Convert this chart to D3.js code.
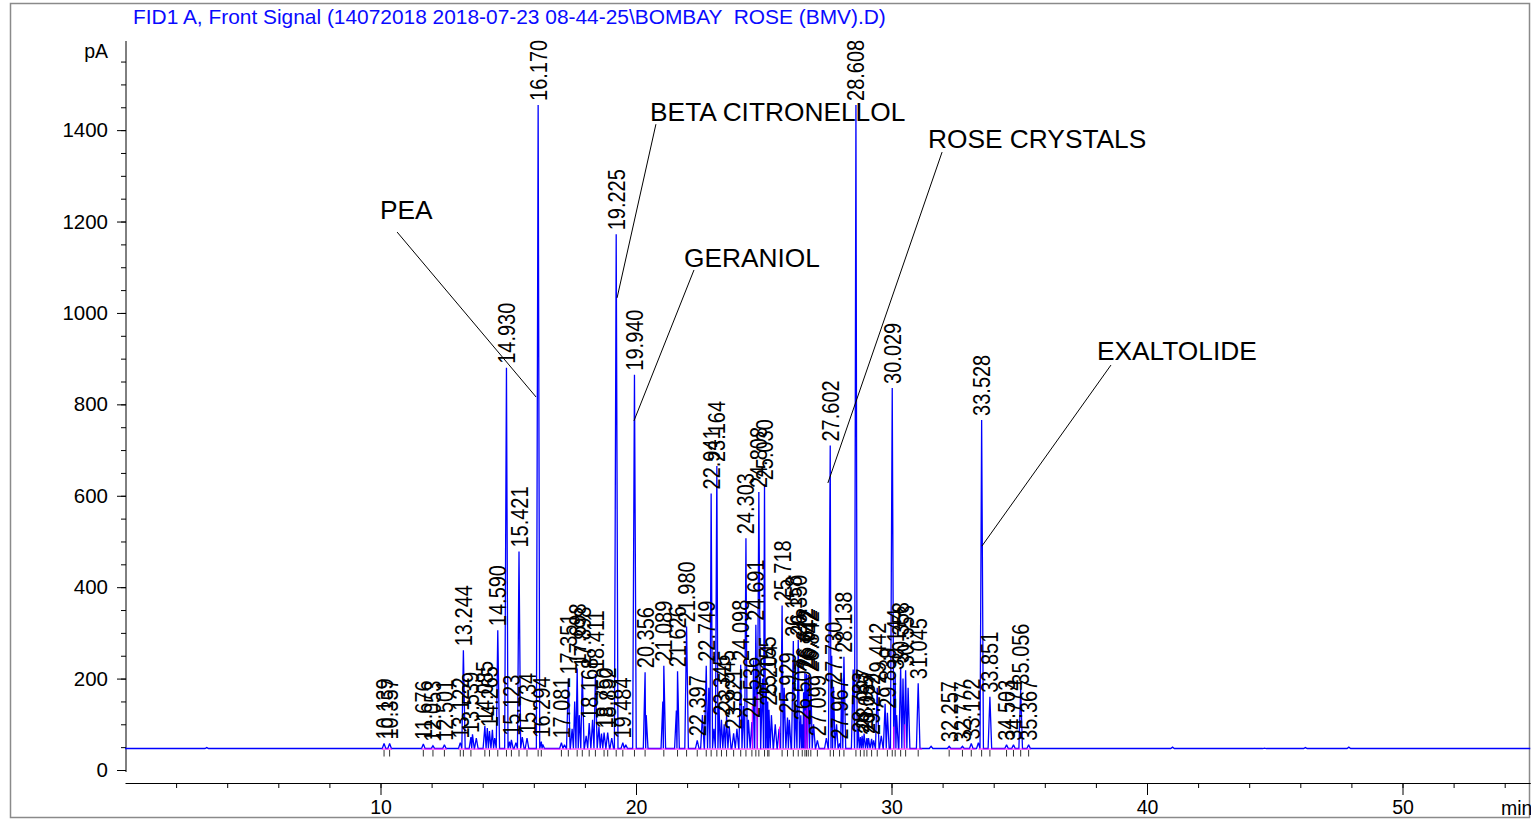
<!DOCTYPE html>
<html>
<head>
<meta charset="utf-8">
<script src="https://cdn.jsdelivr.net/npm/d3@7"></script>
<style>
  html, body { margin: 0; padding: 0; background: #fff; }
  svg { display: block; font-family: "Liberation Sans", Arial, sans-serif; }
</style>
</head>
<body>
<svg id="chart" width="1531" height="820"></svg>
<script>
// ---- Chromatogram data -------------------------------------------------
const signalTitle = "FID1 A, Front Signal (14072018 2018-07-23 08-44-25\\BOMBAY  ROSE (BMV).D)";
const yUnit = "pA";
const xUnit = "min";

// Integrated peaks: retention time (min) and apex signal (pA)
const retentionTimes = [
  10.139, 10.357, 11.676, 12.053, 12.501, 13.122, 13.244, 13.539, 14.085, 14.265,
  14.590, 14.930, 15.123, 15.421, 15.734, 16.170, 16.294, 17.081, 17.351, 17.698,
  17.898, 18.168, 18.411, 18.750, 18.892, 19.225, 19.484, 19.940, 20.356, 21.089,
  21.626, 21.980, 22.397, 22.749, 22.941, 23.164, 23.345, 23.545, 23.821, 24.098,
  24.303, 24.536, 24.691, 24.808, 25.030, 25.155, 25.204, 25.718, 25.929, 26.158,
  26.350, 26.507, 26.612, 26.672, 26.742, 26.842, 27.099, 27.602, 27.730, 27.967,
  28.138, 28.608, 28.783, 28.927, 29.037, 29.222, 29.442, 29.839, 30.029, 30.144,
  30.358, 30.553, 31.045, 32.257, 32.777, 33.122, 33.528, 33.851, 34.503, 34.774,
  35.056, 35.367
];
const peakHeights = [
  58, 58, 57, 53, 55, 60, 262, 72, 96, 85,
  306, 880, 66, 478, 70, 1455, 62, 60, 200, 222,
  215, 103, 210, 82, 82, 1172, 60, 865, 214, 228,
  216, 314, 65, 228, 605, 665, 110, 120, 80, 230,
  507, 105, 318, 608, 625, 150, 132, 360, 115, 282,
  285, 100, 212, 210, 208, 205, 65, 710, 182, 58,
  248, 1455, 72, 80, 70, 68, 180, 125, 836, 210,
  225, 218, 190, 52, 52, 58, 766, 160, 55, 55,
  178, 55
];

// Small unlabelled responses between the integrated peaks
const minorTimes = [
  3.20, 13.60, 13.75, 14.18, 14.38, 14.47, 15.05, 15.30, 15.55, 16.35,
  17.20, 17.50, 17.60, 17.78, 18.05, 18.30, 18.55, 18.65, 19.05, 19.60,
  20.40, 21.05, 21.58, 22.60, 22.85, 23.05, 23.25, 23.45, 23.65, 23.95,
  24.20, 24.40, 24.60, 24.95, 25.10, 25.30, 25.45, 25.60, 25.80, 26.00,
  26.25, 26.45, 26.56, 26.95, 27.45, 27.66, 27.85, 28.05, 28.50, 28.70,
  28.85, 29.10, 29.30, 29.60, 29.75, 30.20, 30.45, 30.65, 31.55, 33.40,
  41.00, 44.60, 46.20, 47.90
];
const minorHeights = [
  49, 78, 70, 92, 88, 70, 62, 60, 72, 56,
  55, 90, 150, 120, 75, 110, 95, 80, 70, 55,
  120, 150, 130, 120, 180, 90, 140, 100, 95, 90,
  140, 110, 240, 200, 180, 120, 100, 90, 180, 110,
  140, 120, 170, 100, 70, 250, 100, 200, 220, 90,
  75, 70, 65, 75, 145, 120, 200, 180, 52, 60,
  50, 48, 49, 50
];

const baselineLevel = 47;          // detector baseline, pA
const integrationBaseline = [      // start / end of drawn integration baselines, min
  [10.05, 10.45], [11.60, 12.60], [13.05, 31.20], [32.20, 33.30], [33.40, 35.45]
];
const dropLineTimes = [24.55, 24.74, 25.62, 26.62, 26.70, 30.09, 30.52];
const dropLineHeights = [140, 165, 95, 130, 140, 95, 100];

const yMajorTicks = [0, 200, 400, 600, 800, 1000, 1200, 1400];
const xMajorTicks = [10, 20, 30, 40, 50];

// Compound call-outs: label, text anchor (min, pA), leader start, leader end
const compoundNames = ["PEA", "BETA CITRONELLOL", "GERANIOL", "ROSE CRYSTALS", "EXALTOLIDE"];
const compoundTextAt = [[9.98, 1205], [20.55, 1420], [21.88, 1100], [31.43, 1361], [38.04, 897]];
const compoundLeaderFrom = [[10.65, 1177], [20.78, 1413], [22.27, 1094], [31.98, 1352], [38.59, 886]];
const compoundLeaderTo = [[16.09, 816], [19.26, 1033], [19.92, 764], [27.51, 628], [33.54, 490]];

// ---- Scales -------------------------------------------------------------
const svg = d3.select("#chart");
const x = d3.scaleLinear().domain([0, 55]).range([125, 1530.25]);
const y = d3.scaleLinear().domain([0, 1595]).range([770, 41]);
const xAxisY = 783;
const traceBlue = "#0000ff";
const fontStack = "Liberation Sans, Arial, sans-serif";

// outer frame
svg.append("rect")
  .attr("x", 10.5).attr("y", 3.5).attr("width", 1519).attr("height", 814)
  .attr("fill", "none").attr("stroke", "#8a8a8a").attr("stroke-width", 1.5);

// title
svg.append("text")
  .attr("x", 133).attr("y", 24)
  .attr("fill", "#0a0aff").attr("font-size", 20.9)
  .style("white-space", "pre")
  .text(signalTitle);

// ---- Y axis ---------------------------------------------------------------
const yAxisG = svg.append("g").attr("transform", "translate(126,0)");
yAxisG.call(d3.axisLeft(y).tickValues(d3.range(0, 1595, 50)).tickSize(5).tickFormat(""))
  .call(g => g.select(".domain").remove());
yAxisG.append("g")
  .call(d3.axisLeft(y).tickValues(yMajorTicks).tickSize(9).tickPadding(9).tickFormat(d3.format("d")))
  .call(g => g.select(".domain").remove())
  .call(g => g.selectAll("text").attr("font-size", 20.5).attr("font-family", fontStack).attr("fill", "#000"));
yAxisG.append("line").attr("x1", 0).attr("x2", 0).attr("y1", y(1595)).attr("y2", y(0) + 2)
  .attr("stroke", "#000");
yAxisG.selectAll(".tick line").attr("stroke", "#000");
svg.append("text").attr("x", 108).attr("y", 58).attr("text-anchor", "end")
  .attr("font-size", 19.5).text(yUnit);

// ---- X axis ---------------------------------------------------------------
const xAxisG = svg.append("g").attr("transform", `translate(0,${xAxisY})`);
xAxisG.call(d3.axisBottom(x).tickValues(d3.range(2, 55, 2)).tickSize(5).tickSizeOuter(0).tickFormat(""));
xAxisG.append("g").call(d3.axisBottom(x).tickValues(xMajorTicks).tickSize(12).tickPadding(5).tickSizeOuter(0))
  .call(g => g.select(".domain").remove())
  .call(g => g.selectAll("text").attr("font-size", 19.5).attr("font-family", fontStack).attr("fill", "#000"));
xAxisG.selectAll(".domain, .tick line").attr("stroke", "#000");
svg.append("text").attr("x", 1501).attr("y", 815).attr("font-size", 19.5).text(xUnit);

// ---- Signal trace -----------------------------------------------------------
const peaks = retentionTimes.map((t, i) => ({ t, h: peakHeights[i] }))
  .concat(minorTimes.map((t, i) => ({ t, h: minorHeights[i] })))
  .sort((a, b) => a.t - b.t);
const halfWidth = 0.07;
const tracePts = [[0, baselineLevel]];
peaks.forEach((p, i) => {
  const prev = peaks[i - 1], next = peaks[i + 1];
  const left = prev ? Math.max(p.t - halfWidth, (prev.t + p.t) / 2) : p.t - halfWidth;
  const right = next ? Math.min(p.t + halfWidth, (p.t + next.t) / 2) : p.t + halfWidth;
  tracePts.push([left, baselineLevel], [p.t, p.h], [right, baselineLevel]);
});
tracePts.push([55, baselineLevel]);

svg.append("path")
  .datum(tracePts)
  .attr("fill", "none").attr("stroke", traceBlue).attr("stroke-width", 1.3)
  .attr("stroke-linejoin", "miter").attr("stroke-miterlimit", 2)
  .attr("d", d3.line().x(d => x(d[0])).y(d => y(d[1])));

// integration baselines and drop lines
svg.append("g").selectAll("line").data(integrationBaseline).join("line")
  .attr("x1", d => x(d[0])).attr("x2", d => x(d[1]))
  .attr("y1", y(baselineLevel) + 0.5).attr("y2", y(baselineLevel) + 0.5)
  .attr("stroke", "#ff00ff").attr("stroke-width", 1);
svg.append("g").selectAll("line").data(dropLineTimes).join("line")
  .attr("x1", d => x(d)).attr("x2", d => x(d))
  .attr("y1", y(baselineLevel)).attr("y2", (d, i) => y(dropLineHeights[i]))
  .attr("stroke", "#ff00ff").attr("stroke-width", 1);

// retention-time tick marks under the baseline
svg.append("g").selectAll("line").data(retentionTimes).join("line")
  .attr("x1", d => x(d)).attr("x2", d => x(d))
  .attr("y1", y(baselineLevel) + 1.5).attr("y2", y(baselineLevel) + 8)
  .attr("stroke", "#333").attr("stroke-width", 1);

// retention-time labels above each apex (vertical text, slightly widened glyphs)
svg.append("g").selectAll("text").data(retentionTimes).join("text")
  .attr("transform", (d, i) => `translate(${x(d) + 8.5},${y(peakHeights[i]) - 4}) rotate(-90) scale(1,1.18)`)
  .attr("font-size", 20).attr("fill", "#000")
  .text(d => d.toFixed(3));

// ---- Compound call-outs -------------------------------------------------------
const callouts = svg.append("g");
compoundNames.forEach((name, i) => {
  callouts.append("line")
    .attr("x1", x(compoundLeaderFrom[i][0])).attr("y1", y(compoundLeaderFrom[i][1]))
    .attr("x2", x(compoundLeaderTo[i][0])).attr("y2", y(compoundLeaderTo[i][1]))
    .attr("stroke", "#000").attr("stroke-width", 1);
  callouts.append("text")
    .attr("x", x(compoundTextAt[i][0])).attr("y", y(compoundTextAt[i][1]))
    .attr("font-size", 26.3).attr("fill", "#000")
    .text(name);
});
</script>
</body>
</html>
